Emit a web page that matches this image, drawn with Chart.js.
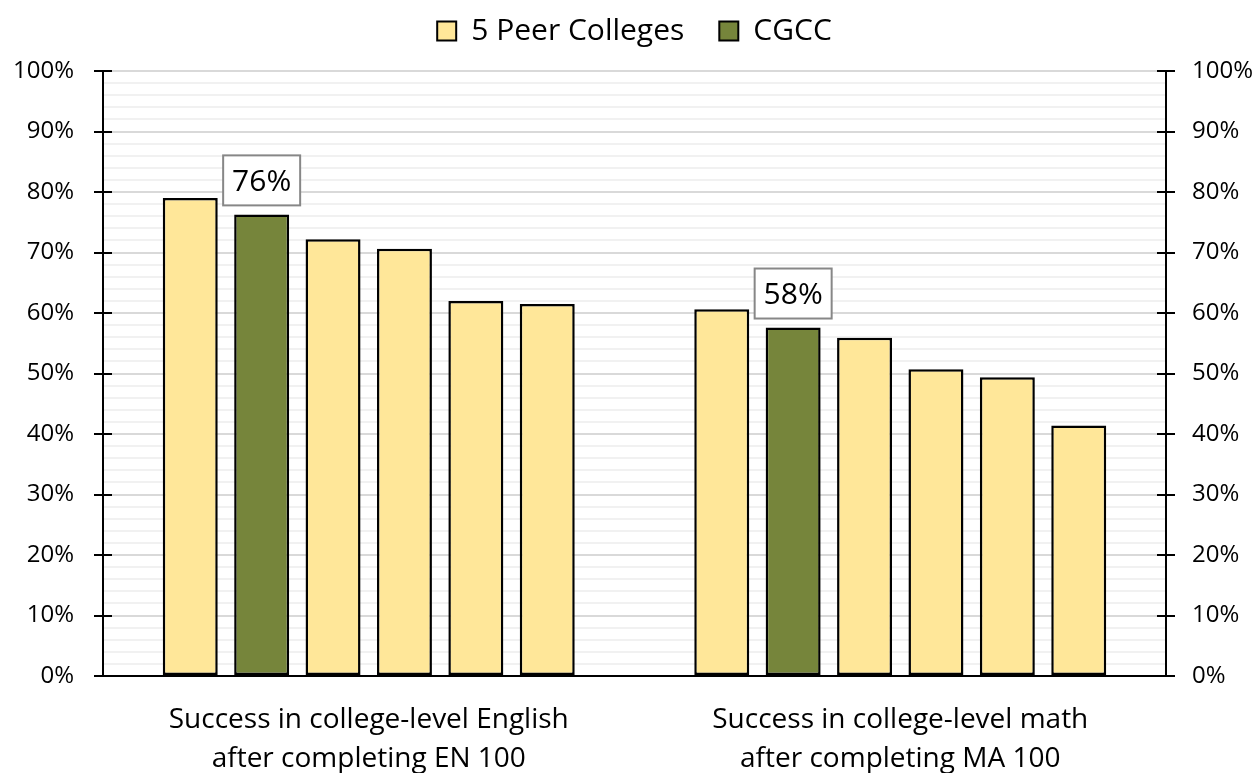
<!DOCTYPE html>
<html>
<head>
<meta charset="utf-8">
<script src="https://cdn.jsdelivr.net/npm/chart.js@4/dist/chart.umd.min.js"></script>
<style>
  html, body { margin: 0; padding: 0; background: #ffffff; }
  #wrap { width: 1253px; height: 773px; position: relative; }
</style>
</head>
<body>
<div id="wrap"><canvas id="c"></canvas></div>
<script>
// Course-success categories (two-line axis labels)
const categories = [
  ['Success in college-level English', 'after completing EN 100'],
  ['Success in college-level math', 'after completing MA 100']
];

// Success rates (%) per bar position, peers ordered high to low
const peer1 = [79.0, 60.6];
const cgcc  = [76.3, 57.6];
const peer2 = [72.2, 55.9];
const peer3 = [70.6, 50.7];
const peer4 = [62.0, 49.4];
const peer5 = [61.5, 41.4];

const legendNames = ['5 Peer Colleges', 'CGCC'];
const yTicks = [0, 10, 20, 30, 40, 50, 60, 70, 80, 90, 100];

const PEER_COLOR = '#FFE799';
const CGCC_COLOR = '#76853B';
const FONT = '"Open Sans", "Noto Sans", sans-serif';

function bar(label, data, color, isCgcc) {
  return {
    label: label,
    data: data,
    backgroundColor: color,
    borderColor: '#000000',
    borderWidth: 2.5,
    borderSkipped: false,
    barPercentage: 0.77,
    categoryPercentage: 0.806,
    isCgcc: isCgcc
  };
}

// Fixed-height legend band above the plot, items centred over the plot area
const legendBand = {
  id: 'legendBand',
  beforeLayout(chart) {
    const lg = chart.legend;
    if (lg && !lg._bandFit) {
      const fit = lg.fit.bind(lg);
      lg.fit = function () { fit(); this.height = 71; };
      const draw = lg.draw.bind(lg);
      lg.draw = function () {
        const ctx = this.ctx;
        const a = chart.chartArea;
        const dx = (a.left + a.right) / 2 - (this.left + this.right) / 2;
        ctx.save();
        ctx.translate(dx, -19);
        draw();
        ctx.restore();
      };
      lg._bandFit = true;
    }
  }
};

// Axis frame: left/right/bottom lines with cross-through tick marks
const axisFrame = {
  id: 'axisFrame',
  afterDatasetsDraw(chart) {
    const { ctx, chartArea: a } = chart;
    const y = chart.scales.y;
    ctx.save();
    ctx.strokeStyle = '#000000';
    ctx.lineWidth = 2;
    ctx.beginPath();
    ctx.moveTo(a.left, a.top); ctx.lineTo(a.left, a.bottom);
    ctx.moveTo(a.right, a.top); ctx.lineTo(a.right, a.bottom);
    ctx.moveTo(a.left - 9, a.bottom); ctx.lineTo(a.right + 9, a.bottom);
    yTicks.forEach(v => {
      const py = Math.round(y.getPixelForValue(v));
      ctx.moveTo(a.left - 9, py); ctx.lineTo(a.left + 9, py);
      ctx.moveTo(a.right - 9, py); ctx.lineTo(a.right + 9, py);
    });
    ctx.stroke();
    ctx.restore();
  }
};

// Boxed value label above each CGCC bar
const cgccLabels = {
  id: 'cgccLabels',
  afterDatasetsDraw(chart) {
    const { ctx } = chart;
    chart.data.datasets.forEach((ds, i) => {
      if (!ds.isCgcc) return;
      const meta = chart.getDatasetMeta(i);
      meta.data.forEach((el, j) => {
        const text = Math.round(ds.data[j]) + '%';
        ctx.save();
        ctx.font = '30px ' + FONT;
        const w = 77, h = 50;
        const cx = el.x, bottom = el.y - 9;
        ctx.fillStyle = '#ffffff';
        ctx.fillRect(cx - w / 2, bottom - h, w, h);
        ctx.strokeStyle = '#878787';
        ctx.lineWidth = 2;
        ctx.strokeRect(cx - w / 2, bottom - h, w, h);
        ctx.fillStyle = '#000000';
        ctx.textAlign = 'center';
        ctx.textBaseline = 'middle';
        ctx.fillText(text, cx, bottom - h / 2 + 2);
        ctx.restore();
      });
    });
  }
};

function yTickOpts(pad) {
  return {
    stepSize: 2,
    autoSkip: false,
    color: '#000000',
    font: { family: FONT, size: 24 },
    padding: pad,
    callback: v => (v % 10 === 0 ? v + '%' : '')
  };
}

new Chart(document.getElementById('c'), {
  type: 'bar',
  data: {
    labels: categories,
    datasets: [
      bar('Peer college 1', peer1, PEER_COLOR, false),
      bar('CGCC', cgcc, CGCC_COLOR, true),
      bar('Peer college 2', peer2, PEER_COLOR, false),
      bar('Peer college 3', peer3, PEER_COLOR, false),
      bar('Peer college 4', peer4, PEER_COLOR, false),
      bar('Peer college 5', peer5, PEER_COLOR, false)
    ]
  },
  options: {
    responsive: true,
    maintainAspectRatio: false,
    animation: false,
    layout: { padding: 0 },
    plugins: {
      tooltip: { enabled: false },
      legend: {
        position: 'top',
        labels: {
          font: { family: FONT, size: 30 },
          color: '#000000',
          boxWidth: 19,
          boxHeight: 19,
          padding: 35,
          generateLabels() {
            return [
              { text: legendNames[0], fillStyle: PEER_COLOR, strokeStyle: '#000', lineWidth: 2, datasetIndex: 0 },
              { text: legendNames[1], fillStyle: CGCC_COLOR, strokeStyle: '#000', lineWidth: 2, datasetIndex: 1 }
            ];
          }
        }
      }
    },
    scales: {
      x: {
        grid: { display: false },
        border: { display: false },
        ticks: {
          color: '#000000',
          font: { family: FONT, size: 28, lineHeight: 1.38 },
          padding: 17,
          maxRotation: 0
        },
        afterFit(s) { s.height = 97; }
      },
      y: {
        position: 'left',
        min: 0, max: 100,
        ticks: yTickOpts(29),
        grid: {
          drawTicks: false,
          lineWidth: 2,
          color: c => (c.tick && c.tick.value % 10 === 0 ? '#d9d9d9' : '#f1f1f1')
        },
        border: { display: false },
        afterFit(s) { s.width = 103; }
      },
      y2: {
        position: 'right',
        min: 0, max: 100,
        ticks: yTickOpts(26),
        grid: { display: false, drawTicks: false },
        border: { display: false },
        afterFit(s) { s.width = 87; }
      }
    }
  },
  plugins: [legendBand, axisFrame, cgccLabels]
});
</script>
</body>
</html>
